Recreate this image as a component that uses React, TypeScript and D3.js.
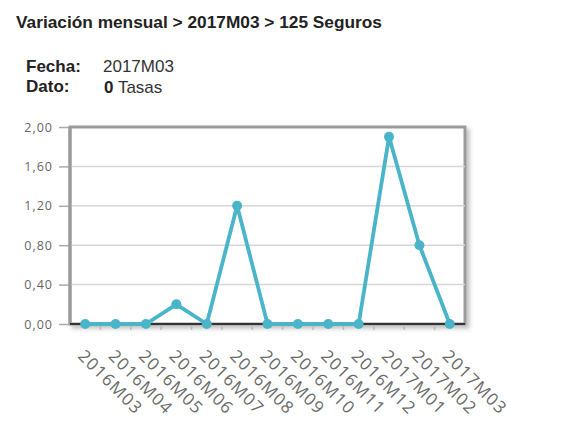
import React, { useEffect, useRef } from "react";
import * as d3 from "d3";

// periods on the x axis
const periods = [
  "2016M03", "2016M04", "2016M05", "2016M06", "2016M07", "2016M08", "2016M09",
  "2016M10", "2016M11", "2016M12", "2017M01", "2017M02", "2017M03",
];
// monthly variation values
const values = [0, 0, 0, 0.2, 0, 1.2, 0, 0, 0, 0, 1.9, 0.8, 0];
const yTicks = [0, 0.4, 0.8, 1.2, 1.6, 2.0];

const title = "Variación mensual > 2017M03 > 125 Seguros";

export default function App() {
  const svgRef = useRef<SVGSVGElement>(null);

  useEffect(() => {
    const svg = d3.select(svgRef.current);
    svg.selectAll("*").remove();

    const margin = { top: 127, left: 70, right: 101, bottom: 103 };
    const width = 566;
    const height = 427;

    const x = d3
      .scaleBand()
      .domain(periods)
      .range([margin.left, width - margin.right]);
    const y = d3
      .scaleLinear()
      .domain([0, 2])
      .range([height - margin.bottom, margin.top]);

    const defs = svg.append("defs");
    const f = defs
      .append("filter")
      .attr("id", "shadow")
      .attr("x", "-10%")
      .attr("y", "-10%")
      .attr("width", "130%")
      .attr("height", "130%");
    f.append("feDropShadow")
      .attr("dx", 3)
      .attr("dy", 3)
      .attr("stdDeviation", 2)
      .attr("flood-color", "#000")
      .attr("flood-opacity", 0.25);

    // header
    svg
      .append("text")
      .attr("x", 16)
      .attr("y", 28)
      .attr("font-family", "Liberation Sans, Arial, sans-serif")
      .attr("font-size", 17.3)
      .attr("font-weight", "bold")
      .attr("fill", "#222")
      .text(title);

    const info = svg
      .append("g")
      .attr("font-family", "Liberation Sans, Arial, sans-serif")
      .attr("font-size", 17);
    info.append("text").attr("x", 26).attr("y", 72).attr("font-weight", "bold").attr("fill", "#222").text("Fecha:");
    info.append("text").attr("x", 103).attr("y", 72).attr("fill", "#333").text("2017M03");
    info.append("text").attr("x", 26).attr("y", 92).attr("font-weight", "bold").attr("fill", "#222").text("Dato:");
    const dato = info.append("text").attr("x", 104).attr("y", 93).attr("fill", "#333");
    dato.append("tspan").attr("font-weight", "bold").attr("fill", "#222").text("0");
    dato.append("tspan").text(" Tasas");

    const x0 = margin.left;
    const x1 = width - margin.right;
    const y0 = height - margin.bottom;
    const y1 = margin.top;

    // plot frame with shadow
    svg
      .append("rect")
      .attr("x", x0)
      .attr("y", y1)
      .attr("width", x1 - x0)
      .attr("height", y0 - y1)
      .attr("fill", "#fff")
      .attr("stroke", "#9a9a9a")
      .attr("stroke-width", 3)
      .attr("filter", "url(#shadow)");

    // gridlines
    svg
      .append("g")
      .selectAll("line")
      .data(yTicks.filter((d) => d > 0 && d < 2))
      .join("line")
      .attr("x1", x0)
      .attr("x2", x1)
      .attr("y1", (d) => y(d))
      .attr("y2", (d) => y(d))
      .attr("stroke", "#d6d6d6")
      .attr("stroke-width", 1.5);

    // y axis
    const yAxis = svg
      .append("g")
      .attr("transform", `translate(${x0},0)`)
      .call(
        d3
          .axisLeft(y)
          .tickValues(yTicks)
          .tickSize(11)
          .tickPadding(6)
          .tickFormat((d) => d3.format(".2f")(d as number).replace(".", ","))
      );
    yAxis.select(".domain").remove();
    yAxis.selectAll(".tick line").attr("stroke", "#aaa").attr("stroke-width", 1.5);
    yAxis
      .selectAll(".tick text")
      .attr("fill", "#666")
      .attr("font-size", 12.5)
      .attr("letter-spacing", 1)
      .attr("font-family", "Open Sans, sans-serif");

    svg
      .append("line")
      .attr("x1", x0)
      .attr("x2", x0)
      .attr("y1", y1)
      .attr("y2", y0)
      .attr("stroke", "#9a9a9a")
      .attr("stroke-width", 3);

    // x axis tick marks at band boundaries
    svg
      .append("g")
      .selectAll("line")
      .data(periods.slice(1))
      .join("line")
      .attr("x1", (d) => x(d)!)
      .attr("x2", (d) => x(d)!)
      .attr("y1", y0)
      .attr("y2", y0 + 6)
      .attr("stroke", "#bbb")
      .attr("stroke-width", 1.5);

    svg
      .append("line")
      .attr("x1", x0)
      .attr("x2", x1)
      .attr("y1", y0)
      .attr("y2", y0)
      .attr("stroke", "#333")
      .attr("stroke-width", 2);

    // x labels
    svg
      .append("g")
      .selectAll("text")
      .data(periods)
      .join("text")
      .attr(
        "transform",
        (d) => `translate(${x(d)! + 7},${y0 + 33}) rotate(45)`
      )
      .attr("font-family", "Open Sans, sans-serif")
      .attr("font-size", 17)
      .attr("letter-spacing", 1.3)
      .attr("fill", "#6a6a6a")
      .text((d) => d);

    // line
    const cx = (i: number) => x(periods[i])! + x.bandwidth() / 2;
    const line = d3
      .line<number>()
      .x((_, i) => cx(i))
      .y((d) => y(d));

    svg
      .append("path")
      .datum(values)
      .attr("d", line)
      .attr("fill", "none")
      .attr("stroke", "#4ab4c8")
      .attr("stroke-width", 3.8)
      .attr("stroke-linejoin", "round");

    svg
      .append("g")
      .selectAll("circle")
      .data(values)
      .join("circle")
      .attr("cx", (_, i) => cx(i))
      .attr("cy", (d) => y(d))
      .attr("r", 5)
      .attr("fill", "#4ab4c8");
  }, []);

  return <svg ref={svgRef} width={566} height={427} style={{ display: "block", margin: -8 }} />;
}
